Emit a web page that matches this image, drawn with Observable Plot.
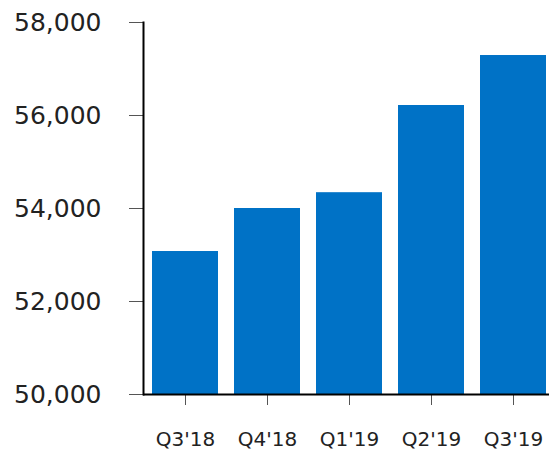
<!DOCTYPE html>
<html>
<head>
<meta charset="utf-8">
<script src="https://cdn.jsdelivr.net/npm/d3@7"></script>
<script src="https://cdn.jsdelivr.net/npm/@observablehq/plot@0.6"></script>
<style>
  html, body { margin: 0; padding: 0; background: #fff; }
  svg { display: block; }
</style>
</head>
<body>
<div id="chart"></div>
<script>
const quarters = ["Q3'18", "Q4'18", "Q1'19", "Q2'19", "Q3'19"];
const values = [53075, 54000, 54340, 56215, 57290];
const yTicks = [50000, 52000, 54000, 56000, 58000];

const data = quarters.map((q, i) => ({quarter: q, value: values[i]}));

const chart = Plot.plot({
  width: 549,
  height: 452,
  marginLeft: 143,
  marginRight: 0,
  marginTop: 22,
  marginBottom: 58,
  style: {fontFamily: "DejaVu Sans, Verdana, sans-serif", color: "#222", background: "#fff"},
  x: {domain: quarters, range: [143, 555.5], paddingInner: 0.2, paddingOuter: 0.1, label: null},
  y: {domain: [50000, 58000], label: null},
  marks: [
    Plot.barY(data, {x: "quarter", y1: 50000, y2: "value", fill: "#0072C6"}),
    Plot.axisY({ticks: yTicks, tickFormat: d3.format(","), tickSize: 14, tickPadding: 28, fontSize: 25, stroke: "#555", label: null}),
    Plot.axisX({tickSize: 11, tickPadding: 26, fontSize: 20, stroke: "#555", label: null}),
    Plot.ruleY([50000], {stroke: "#000", strokeWidth: 2}),
    Plot.frame({anchor: "left", stroke: "#000", strokeWidth: 2})
  ]
});
document.getElementById("chart").appendChild(chart);
</script>
</body>
</html>
